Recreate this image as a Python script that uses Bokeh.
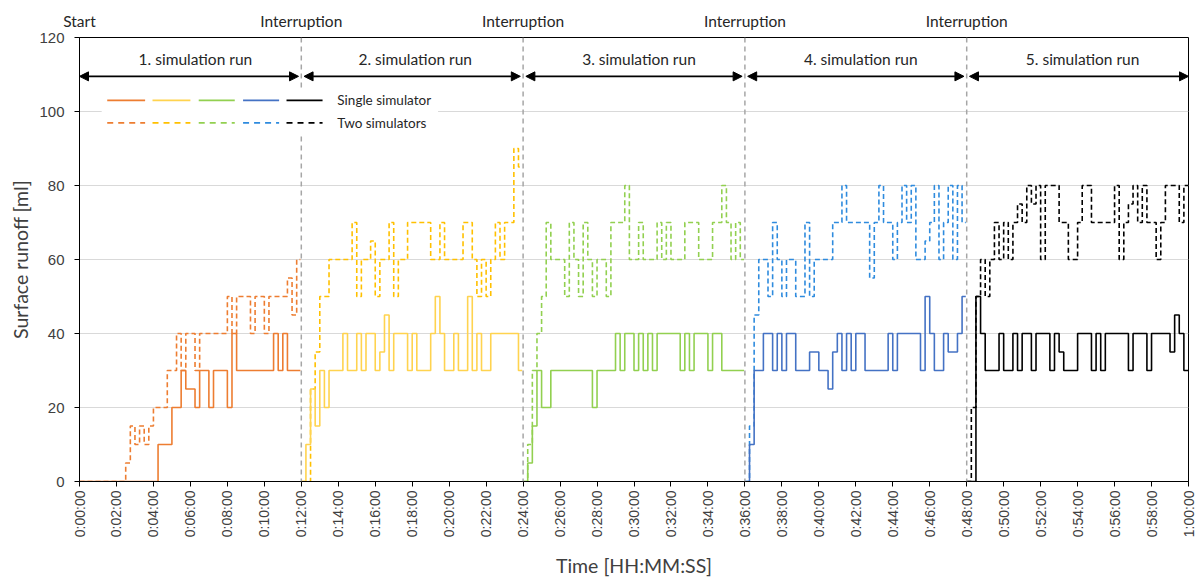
import math
from bokeh.plotting import figure
from bokeh.models import (Range1d, FixedTicker, Span, Arrow, NormalHead, Label, BoxAnnotation,
                          LinearAxis)
from bokeh.embed import file_html
from bokeh.resources import INLINE

# ---------------- data (time in minutes, runoff in ml) ----------------
run1_single_t = [0, 4.25, 5.0, 5.5, 5.75, 6.25, 6.5, 7.0, 7.25, 8.0, 8.25, 8.5, 10.5, 10.75, 11.0, 11.25, 11.95]
run1_single_v = [0, 10, 20, 30, 25, 20, 30, 20, 30, 20, 40, 30, 40, 30, 40, 30, 30]
run1_two_t = [0, 2.5, 2.75, 3.0, 3.25, 3.5, 3.75, 4.0, 4.75, 5.25, 5.5, 5.75, 6.25, 6.5, 8.0, 8.25, 8.5,
              9.25, 9.5, 10.0, 10.25, 11.25, 11.5, 11.75, 11.95]
run1_two_v = [0, 5, 15, 10, 15, 10, 15, 20, 30, 40, 30, 40, 30, 40, 50, 40, 50, 40, 50, 40, 50, 55, 45, 60, 60]

run2_single_t = [12.0, 12.25, 12.5, 12.75, 13.0, 13.25, 13.5, 14.25, 14.5, 15.0, 15.25, 15.5, 16.0, 16.25,
                 16.5, 16.75, 17.0, 17.75, 18.0, 18.25, 19.0, 19.25, 19.5, 19.75, 20.25, 20.5, 21.0, 21.25,
                 21.5, 21.75, 22.25, 23.75, 23.95]
run2_single_v = [0, 10, 25, 15, 30, 20, 30, 40, 30, 40, 30, 40, 30, 35, 45, 30, 40, 30, 40, 30, 40, 50, 40,
                 30, 40, 30, 50, 30, 40, 30, 40, 30, 30]
run2_two_t = [12.0, 12.5, 12.75, 13.0, 13.5, 14.75, 15.0, 15.25, 15.75, 16.0, 16.25, 16.75, 17.0, 17.25,
              17.75, 19.0, 19.5, 19.75, 20.75, 21.25, 21.5, 21.75, 22.0, 22.25, 22.5, 22.75, 23.0, 23.5,
              23.75, 23.95]
run2_two_v = [0, 25, 35, 50, 60, 70, 50, 60, 65, 50, 60, 70, 50, 60, 70, 60, 70, 60, 70, 60, 50, 60, 50,
              60, 70, 60, 70, 90, 85, 85]

run3_single_t = [24.0, 24.25, 24.5, 24.75, 25.0, 25.5, 27.75, 28.0, 29.0, 29.25, 29.5, 30.0, 30.25, 30.5,
                 30.75, 31.0, 31.25, 32.5, 32.75, 33.0, 33.25, 34.0, 34.25, 34.75, 35.95]
run3_single_v = [0, 5, 15, 30, 20, 30, 20, 30, 40, 30, 40, 30, 40, 30, 40, 30, 40, 30, 40, 30, 40, 30, 40,
                 30, 30]
run3_two_t = [24.0, 24.25, 24.5, 24.75, 25.0, 25.25, 25.5, 26.25, 26.5, 26.75, 27.0, 27.25, 27.5, 27.75,
              28.0, 28.5, 28.75, 29.5, 29.75, 30.25, 30.5, 31.25, 31.5, 31.75, 32.0, 32.75, 33.5, 34.25,
              34.75, 35.0, 35.25, 35.5, 35.75, 35.95]
run3_two_v = [0, 10, 30, 40, 50, 70, 60, 50, 70, 60, 50, 70, 60, 50, 60, 50, 70, 80, 60, 70, 60, 70, 60,
              70, 60, 70, 60, 70, 80, 70, 60, 70, 60, 60]

run4_single_t = [36.0, 36.25, 36.5, 37.0, 37.5, 37.75, 38.0, 38.25, 38.75, 39.5, 40.0, 40.5, 40.75, 41.0,
                 41.25, 41.5, 41.75, 42.0, 42.5, 43.75, 44.0, 44.25, 45.5, 45.75, 46.0, 46.25, 46.75, 47.0,
                 47.5, 47.75, 47.95]
run4_single_v = [0, 10, 30, 40, 30, 40, 30, 40, 30, 35, 30, 25, 35, 40, 30, 40, 30, 40, 30, 40, 30, 40,
                 30, 50, 40, 30, 40, 35, 40, 50, 50]
run4_two_t = [36.0, 36.25, 36.5, 36.75, 37.25, 37.5, 37.75, 38.0, 38.25, 38.75, 39.25, 39.5, 39.75, 40.75,
              41.25, 41.5, 42.75, 43.0, 43.25, 43.5, 44.0, 44.25, 44.5, 44.75, 45.0, 45.25, 45.75, 46.0,
              46.25, 46.5, 46.75, 47.0, 47.25, 47.5, 47.75, 47.95]
run4_two_v = [0, 15, 45, 60, 50, 70, 60, 50, 60, 50, 70, 50, 60, 70, 80, 70, 55, 70, 80, 70, 60, 70, 80,
              70, 80, 60, 65, 70, 80, 60, 70, 80, 60, 80, 70, 70]

run5_single_t = [48.0, 48.5, 48.75, 49.0, 49.75, 50.0, 50.5, 50.75, 51.0, 51.5, 51.75, 52.5, 52.75, 53.0,
                 53.25, 54.0, 54.75, 55.0, 55.25, 55.5, 56.75, 57.0, 57.75, 58.0, 59.0, 59.25, 59.5, 59.75,
                 60.0]
run5_single_v = [0, 50, 40, 30, 40, 30, 40, 30, 40, 30, 40, 30, 40, 35, 30, 40, 30, 40, 30, 40, 30, 40,
                 30, 40, 35, 45, 40, 30, 30]
run5_two_t = [48.0, 48.25, 48.5, 48.75, 49.0, 49.25, 49.5, 49.75, 50.0, 50.25, 50.5, 50.75, 51.0, 51.25,
              51.5, 51.75, 52.0, 52.25, 53.0, 53.5, 54.0, 54.25, 54.75, 56.0, 56.25, 56.5, 56.75, 57.0,
              57.25, 57.5, 57.75, 58.25, 58.5, 58.75, 59.5, 59.75, 60.0]
run5_two_v = [0, 20, 50, 60, 50, 60, 70, 60, 70, 60, 70, 75, 70, 80, 75, 80, 60, 80, 70, 60, 70, 80, 70,
              80, 60, 70, 75, 80, 70, 80, 70, 60, 70, 80, 70, 80, 80]

single_colors = ["#ED7D31", "#FFD34F", "#92D050", "#4472C4", "#000000"]
two_colors = ["#ED7D31", "#FFC000", "#92D050", "#2E8BDE", "#000000"]

run_names = ["1. simulation run", "2. simulation  run", "3. simulation run", "4. simulation run",
             "5. simulation run"]
run_bounds = [0, 12, 24, 36, 48, 60]
event_times = [0, 12, 24, 36, 48]
event_names = ["Start", "Interruption", "Interruption", "Interruption", "Interruption"]

x_ticks = list(range(0, 61, 2))
x_tick_labels = {m: "%d:%02d:00" % (m // 60, m % 60) for m in x_ticks}
y_ticks = [0, 20, 40, 60, 80, 100, 120]

single_series = [(run1_single_t, run1_single_v), (run2_single_t, run2_single_v),
                 (run3_single_t, run3_single_v), (run4_single_t, run4_single_v),
                 (run5_single_t, run5_single_v)]
two_series = [(run1_two_t, run1_two_v), (run2_two_t, run2_two_v), (run3_two_t, run3_two_v),
              (run4_two_t, run4_two_v), (run5_two_t, run5_two_v)]

# ---------------- figure ----------------
TXT = "Lato"
p = figure(width=1200, height=581, x_range=Range1d(0, 60), y_range=Range1d(0, 120),
           output_backend="svg", toolbar_location=None,
           min_border_left=79, min_border_right=12, min_border_top=37, min_border_bottom=100)
p.outline_line_color = "black"
p.outline_line_width = 1
p.background_fill_color = "white"
p.border_fill_color = "white"

p.xgrid.visible = False
p.ygrid.ticker = FixedTicker(ticks=y_ticks)
p.ygrid.grid_line_color = "#D9D9D9"
p.ygrid.grid_line_width = 1

xa = p.xaxis[0]
xa.ticker = FixedTicker(ticks=x_ticks)
xa.major_label_overrides = x_tick_labels
xa.major_label_orientation = math.pi / 2
xa.major_label_text_font = "Liberation Sans"
xa.major_label_text_font_size = "14px"
xa.major_label_text_color = "#404040"
xa.major_tick_in = 0
xa.major_tick_out = 5
xa.minor_tick_out = 0
xa.minor_tick_in = 0
xa.major_label_standoff = 4
xa.axis_line_color = "black"
xa.major_tick_line_color = "black"
xa.axis_label = "Time [HH:MM:SS]"
xa.axis_label_text_font = TXT
xa.axis_label_text_font_size = "19.5px"
xa.axis_label_text_font_style = "normal"
xa.axis_label_text_color = "#404040"
xa.axis_label_standoff = 14

ya = p.yaxis[0]
ya.ticker = FixedTicker(ticks=y_ticks)
ya.major_label_text_font = "Liberation Sans"
ya.major_label_text_font_size = "15px"
ya.major_label_text_color = "#404040"
ya.major_tick_in = 0
ya.major_tick_out = 5
ya.minor_tick_out = 0
ya.minor_tick_in = 0
ya.major_label_standoff = 10
ya.axis_line_color = "black"
ya.major_tick_line_color = "black"
ya.axis_label = "Surface runoff [ml]"
ya.axis_label_text_font = TXT
ya.axis_label_text_font_size = "19.5px"
ya.axis_label_text_font_style = "normal"
ya.axis_label_text_color = "#404040"
ya.axis_label_standoff = 4

# event labels above the plot area (Start / Interruption), as a label-only axis
top_axis = LinearAxis(ticker=FixedTicker(ticks=event_times),
                      major_label_overrides={t: n for t, n in zip(event_times, event_names)})
top_axis.axis_line_color = None
top_axis.major_tick_line_color = None
top_axis.minor_tick_line_color = None
top_axis.major_tick_out = 0
top_axis.major_tick_in = 0
top_axis.major_label_standoff = 8
top_axis.major_label_text_font = TXT
top_axis.major_label_text_font_size = "15.5px"
top_axis.major_label_text_color = "#262626"
p.add_layout(top_axis, "above")

# interruption lines
for t in event_times[1:]:
    p.add_layout(Span(location=t, dimension="height", line_color="#A6A6A6", line_width=1.5,
                      line_dash="5 4"))

# data series
for (t, v), c in zip(two_series, two_colors):
    p.step(x=t, y=v, mode="after", line_color=c, line_width=1.6, line_dash="5 3")
for (t, v), c in zip(single_series, single_colors):
    p.step(x=t, y=v, mode="after", line_color=c, line_width=1.6)

# run arrows and labels
ARROW_Y = 109.5
for i, name in enumerate(run_names):
    a, b = run_bounds[i], run_bounds[i + 1]
    xs = a + (0.15 if i > 0 else 0)
    xe = b - (0.15 if i < 4 else 0)
    p.add_layout(Arrow(x_start=xs, y_start=ARROW_Y, x_end=xe, y_end=ARROW_Y, line_width=1.6,
                       line_color="black",
                       start=NormalHead(size=9, fill_color="black", line_color="black"),
                       end=NormalHead(size=9, fill_color="black", line_color="black")))
    p.add_layout(Label(x=(a + b) / 2, y=114.3, x_offset=5, text=name, text_align="center",
                       text_baseline="middle", text_font=TXT, text_font_size="15.5px",
                       text_color="#262626"))

# legend
p.add_layout(BoxAnnotation(left=1.2, right=19.4, bottom=93.8, top=106.2, fill_color="white",
                           fill_alpha=1.0, line_color=None))
leg_x0 = [1.5, 3.95, 6.45, 8.85, 11.2]
leg_x1 = [3.55, 6.0, 8.4, 10.8, 13.15]
ROW1, ROW2 = 103.0, 96.9
p.segment(x0=leg_x0, y0=[ROW1] * 5, x1=leg_x1, y1=[ROW1] * 5, line_color=single_colors,
          line_width=1.8, level="overlay")
p.segment(x0=leg_x0, y0=[ROW2] * 5, x1=leg_x1, y1=[ROW2] * 5, line_color=two_colors,
          line_width=1.8, line_dash="6 5", level="overlay")
for yy, txt in [(ROW1, "Single simulator"), (ROW2, "Two simulators")]:
    p.add_layout(Label(x=13.95, y=yy, text=txt, text_align="left", text_baseline="middle",
                       text_font=TXT, text_font_size="13.5px", text_color="#262626", level="overlay"))

open("out.html", "w").write(file_html(p, INLINE))
